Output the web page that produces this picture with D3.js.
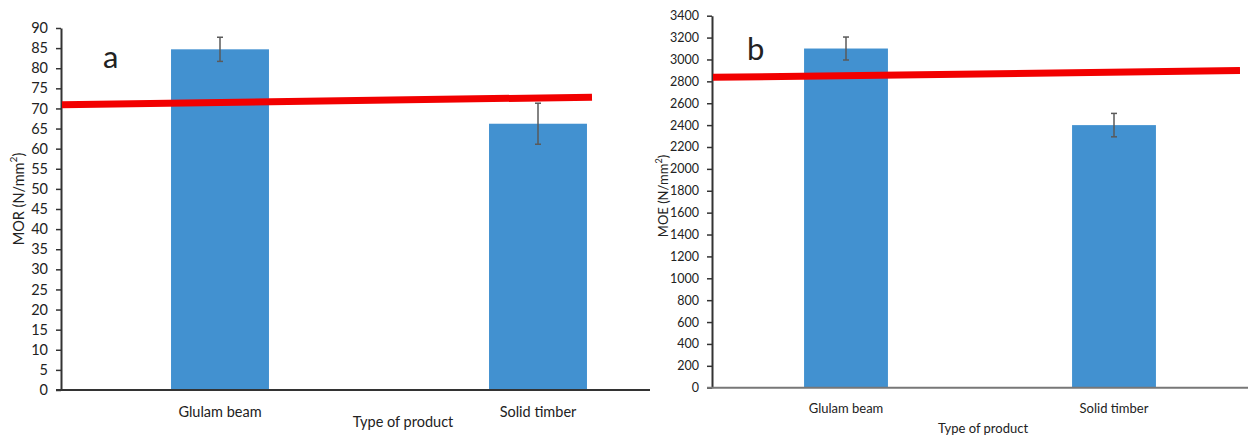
<!DOCTYPE html>
<html>
<head>
<meta charset="utf-8">
<script src="https://cdn.jsdelivr.net/npm/d3@7"></script>
<style>
  html, body { margin: 0; padding: 0; background: #fff; }
  svg { display: block; }
  text { font-family: Lato, "Open Sans", sans-serif; fill: #222; }
</style>
</head>
<body>
<svg id="chart" width="1251" height="437"></svg>
<script>
// ---------- data ----------
const categories = ["Glulam beam", "Solid timber"];
const morValues = [84.7, 66.2];
const morErrors = [3.0, 5.1];
const moeValues = [3100, 2400];
const moeErrors = [105, 107];
const morRefLine = [70.9, 72.8];   // red reference line, start / end value
const moeRefLine = [2837, 2898];
const morTicks = d3.range(0, 91, 5);
const moeTicks = d3.range(0, 3401, 200);
const xTitle = "Type of product";

// ---------- layout ----------
const svg = d3.select("#chart");
const panels = [
  {
    letter: "a", yLabel: "MOR", values: morValues, errors: morErrors, ref: morRefLine, ticks: morTicks,
    yMax: 90, left: 61, bandRight: 697, axisRight: 650, top: 28, bottom: 390,
    pad: 0.692, tickFont: 14.5, catFont: 14.5, titleFont: 14.5, yLabelFont: 14.5, yLabelX: 18, yLabelY: 199,
    refX1: 592, letterX: 103, letterY: 68, catY: 417, titleX: 403, titleY: 427,
    xAxisColor: "#333"
  },
  {
    letter: "b", yLabel: "MOE", values: moeValues, errors: moeErrors, ref: moeRefLine, ticks: moeTicks,
    yMax: 3400, left: 712, bandRight: 1248, axisRight: 1248, top: 15.7, bottom: 387.7,
    pad: 0.687, tickFont: 12.5, catFont: 13, titleFont: 13, yLabelFont: 13, yLabelX: 663, yLabelY: 196,
    refX1: 1240, letterX: 747, letterY: 60, catY: 413, titleX: 983, titleY: 433,
    xAxisColor: "#777"
  }
];

panels.forEach(p => {
  const g = svg.append("g");
  const x = d3.scaleBand().domain(categories).range([p.left, p.bandRight])
    .paddingInner(p.pad).paddingOuter(p.pad / 2);
  const y = d3.scaleLinear().domain([0, p.yMax]).range([p.bottom, p.top]);

  // bars
  g.selectAll("rect.bar").data(categories).join("rect")
    .attr("class", "bar")
    .attr("x", d => x(d))
    .attr("width", x.bandwidth())
    .attr("y", (d, i) => y(p.values[i]))
    .attr("height", (d, i) => y(0) - y(p.values[i]))
    .attr("fill", "#4291D0");

  // error bars
  const eb = g.selectAll("g.err").data(categories).join("g").attr("class", "err")
    .attr("stroke", "#5a5a5a").attr("stroke-width", 1.5);
  eb.append("line")
    .attr("x1", d => x(d) + x.bandwidth() / 2).attr("x2", d => x(d) + x.bandwidth() / 2)
    .attr("y1", (d, i) => y(p.values[i] + p.errors[i]))
    .attr("y2", (d, i) => y(p.values[i] - p.errors[i]));
  [1, -1].forEach(s => {
    eb.append("line")
      .attr("x1", d => x(d) + x.bandwidth() / 2 - 3).attr("x2", d => x(d) + x.bandwidth() / 2 + 3)
      .attr("y1", (d, i) => y(p.values[i] + s * p.errors[i]))
      .attr("y2", (d, i) => y(p.values[i] + s * p.errors[i]));
  });

  // y axis
  const yAxis = d3.axisLeft(y).tickValues(p.ticks).tickFormat(d3.format("d"))
    .tickSize(5).tickPadding(8).tickSizeOuter(0);
  const ya = g.append("g").attr("transform", `translate(${p.left},0)`).call(yAxis);
  ya.select(".domain").attr("stroke", "#333").attr("stroke-width", 2);
  ya.selectAll(".tick line").attr("stroke", "#333").attr("stroke-width", 1.5);
  ya.selectAll(".tick text").attr("font-family", "Lato, 'Open Sans', sans-serif")
    .attr("font-size", p.tickFont).attr("fill", "#222");

  // x axis line (category labels without tick marks)
  g.append("line")
    .attr("x1", p.left - 5).attr("x2", p.axisRight)
    .attr("y1", y(0)).attr("y2", y(0))
    .attr("stroke", p.xAxisColor).attr("stroke-width", 2);
  g.selectAll("text.cat").data(categories).join("text")
    .attr("class", "cat")
    .attr("x", d => x(d) + x.bandwidth() / 2)
    .attr("y", p.catY)
    .attr("text-anchor", "middle")
    .attr("font-size", p.catFont)
    .text(d => d);

  // x title
  g.append("text")
    .attr("x", p.titleX).attr("y", p.titleY)
    .attr("text-anchor", "middle").attr("font-size", p.titleFont)
    .text(xTitle);

  // y label
  const yl = g.append("text")
    .attr("transform", `translate(${p.yLabelX},${p.yLabelY}) rotate(-90)`)
    .attr("text-anchor", "middle").attr("dominant-baseline", "central")
    .attr("font-size", p.yLabelFont);
  yl.append("tspan").text(p.yLabel + " (N/mm");
  yl.append("tspan").attr("dy", -p.yLabelFont * 0.35).attr("font-size", p.yLabelFont * 0.7).text("2");
  yl.append("tspan").attr("dy", p.yLabelFont * 0.35).text(")");

  // red reference line
  g.append("line")
    .attr("x1", p.left + 1).attr("x2", p.refX1)
    .attr("y1", y(p.ref[0])).attr("y2", y(p.ref[1]))
    .attr("stroke", "#F20000").attr("stroke-width", 7);

  // panel letter
  g.append("text")
    .attr("x", p.letterX).attr("y", p.letterY)
    .attr("font-size", 31).attr("fill", "#000")
    .text(p.letter);
});
</script>
</body>
</html>
